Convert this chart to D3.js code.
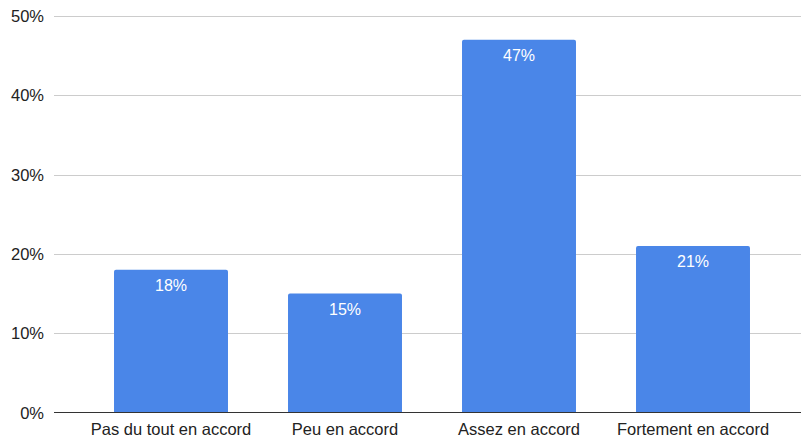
<!DOCTYPE html>
<html>
<head>
<meta charset="utf-8">
<script src="https://cdn.jsdelivr.net/npm/d3@7"></script>
<style>
  html, body { margin: 0; padding: 0; background: #fff; }
  svg { display: block; font-family: "Liberation Sans", Arial, sans-serif; }
</style>
</head>
<body>
<svg id="chart" width="801" height="441"></svg>
<script>
// Responses per agreement level (percent)
const categories = ["Pas du tout en accord", "Peu en accord", "Assez en accord", "Fortement en accord"];
const values = [18, 15, 47, 21];
const yTicks = [0, 10, 20, 30, 40, 50];

const svg = d3.select("#chart");
const plotLeft = 54, plotRight = 801;

const y = d3.scaleLinear().domain([0, 50]).range([412.5, 16]);
const x = d3.scaleBand()
  .domain(categories)
  .range([84, 780])
  .paddingInner(0.345)
  .paddingOuter(0.1725);

// Horizontal gridlines
svg.append("g")
  .selectAll("line")
  .data(yTicks.filter(t => t > 0))
  .join("line")
  .attr("x1", plotLeft).attr("x2", plotRight)
  .attr("y1", d => Math.round(y(d)) + 0.5).attr("y2", d => Math.round(y(d)) + 0.5)
  .attr("stroke", "#cccccc").attr("stroke-width", 1);

// Y-axis labels
svg.append("g")
  .selectAll("text")
  .data(yTicks)
  .join("text")
  .attr("x", 44)
  .attr("y", d => y(d) + 6)
  .attr("text-anchor", "end")
  .attr("font-size", "16.5px")
  .attr("fill", "#222")
  .text(d => d + "%");

// Bars with slightly rounded top corners
const r = 2;
function barPath(x0, y0, w, y1) {
  return `M${x0},${y1}V${y0 + r}Q${x0},${y0} ${x0 + r},${y0}H${x0 + w - r}Q${x0 + w},${y0} ${x0 + w},${y0 + r}V${y1}Z`;
}
svg.append("g")
  .selectAll("path")
  .data(values)
  .join("path")
  .attr("d", (d, i) => barPath(x(categories[i]), y(d), x.bandwidth(), y(0)))
  .attr("fill", "#4a86e8");

// Value labels inside bars
svg.append("g")
  .selectAll("text")
  .data(values)
  .join("text")
  .attr("x", (d, i) => x(categories[i]) + x.bandwidth() / 2)
  .attr("y", d => y(d) + 21)
  .attr("text-anchor", "middle")
  .attr("font-size", "16px")
  .attr("fill", "#ffffff")
  .text(d => d + "%");

// Baseline
svg.append("line")
  .attr("x1", plotLeft).attr("x2", plotRight)
  .attr("y1", 412.5).attr("y2", 412.5)
  .attr("stroke", "#333333").attr("stroke-width", 1);

// Category labels
svg.append("g")
  .selectAll("text")
  .data(categories)
  .join("text")
  .attr("x", d => x(d) + x.bandwidth() / 2)
  .attr("y", 435)
  .attr("text-anchor", "middle")
  .attr("font-size", "16.5px")
  .attr("fill", "#222")
  .text(d => d);
</script>
</body>
</html>
